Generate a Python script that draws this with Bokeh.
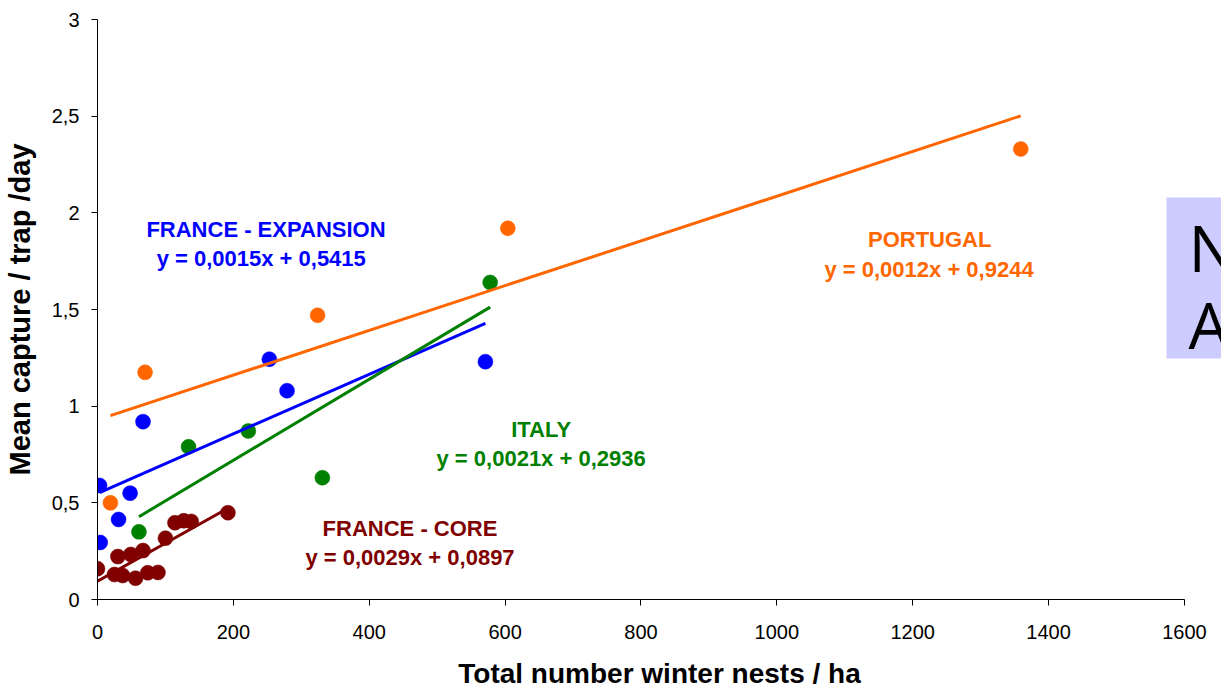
import numpy as np
from bokeh.plotting import figure
from bokeh.models import Range1d, FixedTicker, BoxAnnotation
from bokeh.core.properties import value
from bokeh.embed import file_html
from bokeh.resources import INLINE

# ---- data: winter nests per ha vs. mean capture per trap per day ----
portugal_x = [19, 70, 324, 604, 1359]
portugal_y = [0.50, 1.175, 1.47, 1.92, 2.33]

expansion_x = [3, 4, 31, 48, 67, 253, 279, 571]
expansion_y = [0.59, 0.295, 0.414, 0.55, 0.92, 1.243, 1.08, 1.23]

italy_x = [61, 134, 222, 331, 578]
italy_y = [0.35, 0.79, 0.872, 0.63, 1.64]

core_x = [0, 25, 30, 37, 49, 56, 67, 74, 89, 100, 114, 127, 138, 192]
core_y = [0.159, 0.129, 0.222, 0.124, 0.233, 0.11, 0.253, 0.138, 0.14,
          0.317, 0.397, 0.407, 0.404, 0.449]

series_names = ["PORTUGAL", "FRANCE - EXPANSION", "ITALY", "FRANCE - CORE"]
equations = ["y = 0,0012x + 0,9244", "y = 0,0015x + 0,5415",
             "y = 0,0021x + 0,2936", "y = 0,0029x + 0,0897"]
colors = ["#FF6600", "#0000FF", "#008000", "#800000"]

# label anchors (data units): name line and equation line
label_x = [1225, 248, 653, 460]
name_y = [1.86, 1.914, 0.881, 0.369]
eq_x = [1224, 241, 653, 460]
eq_y = [1.705, 1.766, 0.731, 0.219]

x_ticks = [0, 200, 400, 600, 800, 1000, 1200, 1400, 1600]
y_ticks = [0, 0.5, 1, 1.5, 2, 2.5, 3]
y_tick_labels = ["0", "0,5", "1", "1,5", "2", "2,5", "3"]

FONT = "Liberation Sans"

p = figure(width=1221, height=698,
           x_range=Range1d(0, 1654.5), y_range=Range1d(0, 3),
           output_backend="svg", toolbar_location=None,
           min_border_left=97, min_border_right=0,
           min_border_top=19, min_border_bottom=99)
p.background_fill_color = "white"
p.border_fill_color = "white"
p.outline_line_color = None
p.xgrid.visible = False
p.ygrid.visible = False

# side panel box with large letters
p.add_layout(BoxAnnotation(left=1573.5, bottom=1.247, top=2.079,
                           fill_color="#CCCCFF", fill_alpha=1.0,
                           line_color=None, level="underlay"))
p.text(x=[1606, 1606], y=[1.823, 1.425], text=["N", "A"],
       text_font=value("Open Sans"), text_font_size="64px",
       text_color="black", text_baseline="middle", text_align="left")

xs_all = [portugal_x, expansion_x, italy_x, core_x]
ys_all = [portugal_y, expansion_y, italy_y, core_y]

# markers
for xs, ys, c in zip(xs_all, ys_all, colors):
    p.scatter(xs, ys, size=15, fill_color=c, line_color=c, line_width=0.5)

# least-squares trend lines across each series' x span
for xs, ys, c in zip(xs_all, ys_all, colors):
    slope, intercept = np.polyfit(xs, ys, 1)
    x0, x1 = min(xs), max(xs)
    p.line([x0, x1], [slope * x0 + intercept, slope * x1 + intercept],
           line_color=c, line_width=3)

# series names and equations
for i, c in enumerate(colors):
    p.text(x=[label_x[i]], y=[name_y[i]], text=[series_names[i]],
           text_font=value(FONT), text_font_style="bold", text_font_size="22px",
           text_color=c, text_align="center", text_baseline="middle")
    p.text(x=[eq_x[i]], y=[eq_y[i]], text=[equations[i]],
           text_font=value(FONT), text_font_style="bold", text_font_size="22px",
           text_color=c, text_align="center", text_baseline="middle")

# axes
p.xaxis.ticker = FixedTicker(ticks=x_ticks)
p.yaxis.ticker = FixedTicker(ticks=y_ticks)
p.yaxis.major_label_overrides = {t: lab for t, lab in zip(y_ticks, y_tick_labels)}
p.xaxis.bounds = (0, 1600)

for ax in (p.xaxis[0], p.yaxis[0]):
    ax.axis_line_color = "black"
    ax.axis_line_width = 1
    ax.major_tick_line_color = "black"
    ax.major_tick_out = 6
    ax.major_tick_in = 0
    ax.minor_tick_line_color = None
    ax.major_label_text_font = FONT
    ax.major_label_text_font_size = "20px"
    ax.major_label_text_color = "black"
    ax.axis_label_text_font = FONT
    ax.axis_label_text_font_style = "bold"
    ax.axis_label_text_font_size = "28px"
    ax.axis_label_text_color = "black"

p.yaxis.axis_label_text_font_size = "29px"
p.xaxis.axis_label = "Total number winter nests / ha"
p.yaxis.axis_label = "Mean capture / trap /day"
p.xaxis.major_label_standoff = 19
p.yaxis.major_label_standoff = 12
p.xaxis.axis_label_standoff = 16
p.yaxis.axis_label_standoff = 13

open("out.html", "w").write(file_html(p, INLINE))
